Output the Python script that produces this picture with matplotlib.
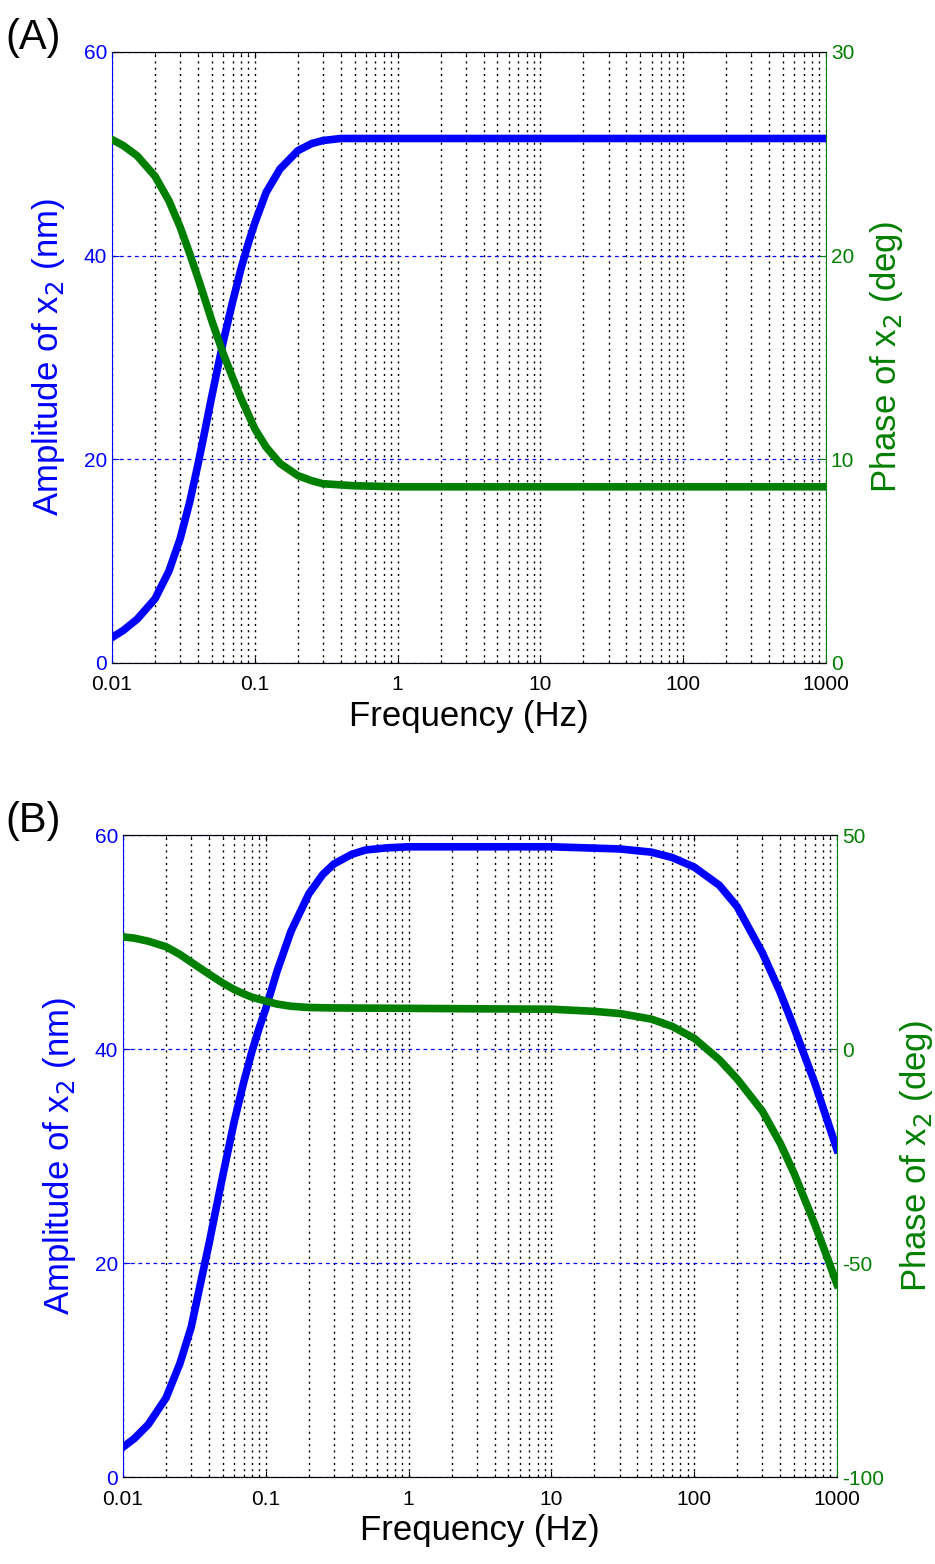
import numpy as np
import matplotlib
matplotlib.use("Agg")
import matplotlib.pyplot as plt
from matplotlib.ticker import LogLocator, NullFormatter

plt.rcParams['font.family'] = ['Liberation Sans', 'DejaVu Sans']
plt.rcParams['axes.unicode_minus'] = False

# panel A data
freq_a_amp = [0.01, 0.012, 0.015, 0.02, 0.025, 0.03, 0.035, 0.04, 0.045, 0.05,
              0.055, 0.06, 0.07, 0.08, 0.09, 0.1, 0.12, 0.15, 0.2, 0.25, 0.3,
              0.4, 0.5, 1, 10, 100, 1000]
amp_a = [2.5, 3.2, 4.3, 6.3, 9.0, 12.2, 15.8, 19.5, 23.0, 26.2,
         29.0, 31.5, 35.5, 38.7, 41.2, 43.2, 46.2, 48.5, 50.3, 51.0, 51.3,
         51.5, 51.5, 51.5, 51.5, 51.5, 51.5]
freq_a_ph = [0.01, 0.012, 0.015, 0.02, 0.025, 0.03, 0.035, 0.04, 0.045, 0.05,
             0.06, 0.07, 0.08, 0.1, 0.12, 0.15, 0.2, 0.25, 0.3, 0.5, 1, 10,
             100, 1000]
phase_a = [25.7, 25.4, 24.9, 23.9, 22.7, 21.4, 20.1, 18.9, 17.8, 16.8,
           15.2, 14.0, 13.0, 11.5, 10.6, 9.8, 9.2, 8.95, 8.8, 8.7, 8.65, 8.65,
           8.65, 8.65]

# panel B data
freq_b_amp = [0.01, 0.012, 0.015, 0.02, 0.025, 0.03, 0.035, 0.04, 0.045, 0.05,
              0.06, 0.07, 0.08, 0.09, 0.1, 0.12, 0.15, 0.2, 0.25, 0.3, 0.4,
              0.5, 0.7, 1, 10, 30, 50, 70, 100, 150, 200, 300, 400, 500, 700, 1000]
amp_b = [2.8, 3.6, 4.9, 7.4, 10.6, 14.0, 18.2, 21.8, 25.2, 28.2,
         33.2, 36.9, 39.8, 42.0, 43.8, 47.3, 51.0, 54.5, 56.3, 57.3, 58.2,
         58.6, 58.8, 58.9, 58.9, 58.7, 58.4, 57.9, 57.0, 55.3, 53.3, 49.0, 45.3,
         42.0, 36.8, 30.6]
freq_b_ph = [0.01, 0.012, 0.015, 0.02, 0.025, 0.03, 0.04, 0.05, 0.06, 0.07,
             0.08, 0.1, 0.12, 0.15, 0.2, 0.3, 1, 3, 10, 20, 30, 50, 70, 100,
             150, 200, 300, 400, 500, 700, 850, 1000]
phase_b = [26.2, 25.9, 25.2, 23.9, 22.1, 20.3, 17.5, 15.4, 13.9, 12.9,
           12.1, 11.2, 10.5, 10.0, 9.7, 9.6, 9.5, 9.4, 9.3, 8.8, 8.3, 7.0, 5.3, 2.5,
           -2.5, -7.0, -14.5, -22.0, -29.0, -41.0, -48.5, -55.0]

xticks = [0.01, 0.1, 1, 10, 100, 1000]
xticklabels = ['0.01', '0.1', '1', '10', '100', '1000']

BLUE = '#0000ff'
GREEN = '#007f00'


def panel(rect, fa, amp, fp, ph, rticks, letter):
    ax = fig.add_axes(rect)
    ax2 = ax.twinx()
    ax.plot(fa, amp, color=BLUE, lw=5.5, solid_joinstyle='round')
    ax2.plot(fp, ph, color=GREEN, lw=5.5, solid_joinstyle='round')
    ax.set_xscale('log')
    ax.set_xlim(0.01, 1000)
    ax.set_ylim(0, 60)
    ax.set_yticks([0, 20, 40, 60])
    ax2.set_ylim(rticks[0], rticks[-1])
    ax2.set_yticks(rticks)
    ax.set_xticks(xticks)
    ax.set_xticklabels(xticklabels)
    ax.xaxis.set_minor_locator(LogLocator(base=10, subs=np.arange(2, 10)))
    ax.xaxis.set_minor_formatter(NullFormatter())
    # vertical dotted grid (major+minor) and blue dashed horizontal grid
    ax.grid(True, which='both', axis='x', color='black', ls=(0, (1.5, 3)), lw=1.0)
    ax.grid(True, which='major', axis='y', color=BLUE, ls=(0, (3, 3)), lw=0.9)
    ax.tick_params(axis='x', which='both', direction='in', labelsize=15, pad=9,
                   top=True, length=4)
    ax.tick_params(axis='x', which='minor', length=2)
    ax.tick_params(axis='y', direction='in', colors=BLUE, labelsize=15, length=5)
    ax2.tick_params(axis='y', direction='in', colors=GREEN, labelsize=15, length=5)
    ax.spines['left'].set_color(BLUE)
    ax2.spines['left'].set_visible(False)
    ax2.spines['right'].set_color(GREEN)
    ax.spines['right'].set_visible(False)
    ax.set_xlabel('Frequency (Hz)', fontsize=25, labelpad=4)
    ax.set_ylabel('Amplitude of x$_2$ (nm)', fontsize=25, color=BLUE, labelpad=12)
    ax2.set_ylabel('Phase of x$_2$ (deg)', fontsize=25, color=GREEN, labelpad=10)
    fig.text(0.006, rect[1] + rect[3] - 0.004, letter, fontsize=30,
             ha='left', va='bottom')
    return ax, ax2


fig = plt.figure(figsize=(9.35, 15.64), dpi=100)
panel([0.1198, 0.5761, 0.7636, 0.3907], freq_a_amp, amp_a, freq_a_ph, phase_a,
      [0, 10, 20, 30], '(A)')
panel([0.1316, 0.0556, 0.7636, 0.4105], freq_b_amp, amp_b, freq_b_ph, phase_b,
      [-100, -50, 0, 50], '(B)')

fig.savefig('out.png', dpi=100)
